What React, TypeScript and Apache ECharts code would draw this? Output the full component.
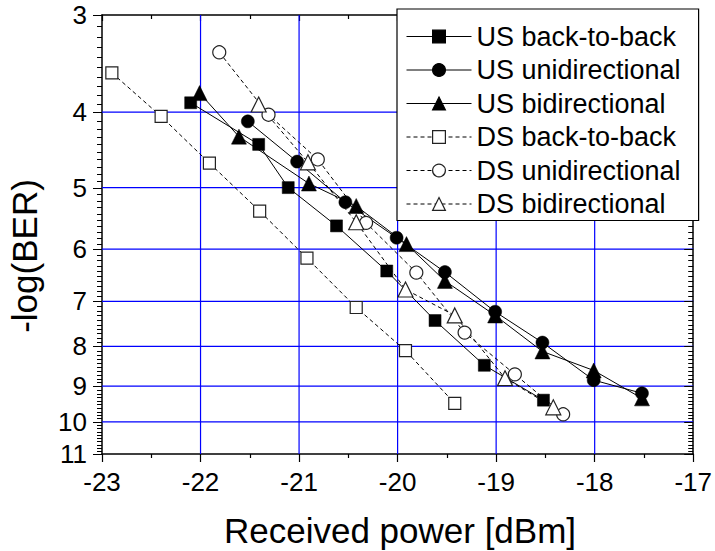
import React, { useEffect, useRef } from "react";
import * as echarts from "echarts";

// ---- axis definitions ----
const xRange = [-23, -17];
const xGridValues = [-22, -21, -20, -19, -18];
const yTickLabels = [3, 4, 5, 6, 7, 8, 9, 10, 11];
const xTitle = "Received power [dBm]";
const yTitle = "-log(BER)";

// ---- data: [received power dBm, -log(BER)] ----
const usBackToBack = [
  [-22.1, 3.89], [-21.41, 4.4], [-21.11, 5.0], [-20.62, 5.6],
  [-20.11, 6.4], [-19.62, 7.41], [-19.12, 8.46], [-18.52, 9.38],
];
const usUnidirectional = [
  [-21.52, 4.11], [-21.02, 4.63], [-20.53, 5.22], [-20.01, 5.8],
  [-19.52, 6.42], [-19.01, 7.22], [-18.53, 7.91], [-18.01, 8.84], [-17.52, 9.19],
];
const usBidirectional = [
  [-22.01, 3.78], [-21.61, 4.3], [-20.9, 4.94], [-20.42, 5.28], [-19.91, 5.91],
  [-19.52, 6.59], [-19.01, 7.3], [-18.53, 8.12], [-18.01, 8.59], [-17.52, 9.33],
];
const dsBackToBack = [
  [-22.9, 3.56], [-22.4, 4.05], [-21.91, 4.65], [-21.4, 5.36],
  [-20.92, 6.16], [-20.42, 7.13], [-19.92, 8.1], [-19.42, 9.47],
];
const dsUnidirectional = [
  [-21.81, 3.35], [-21.31, 4.03], [-20.81, 4.6], [-20.32, 5.55],
  [-19.81, 6.43], [-19.32, 7.68], [-18.81, 8.69], [-18.32, 9.78],
];
const dsBidirectional = [
  [-21.41, 3.91], [-20.91, 4.64], [-20.42, 5.54], [-19.92, 6.76],
  [-19.42, 7.3], [-18.91, 8.79], [-18.42, 9.58],
];

const seriesNames = [
  "US back-to-back", "US unidirectional", "US bidirectional",
  "DS back-to-back", "DS unidirectional", "DS bidirectional",
];

const FONT = '"Liberation Sans", Arial, Helvetica, sans-serif';
const GRID_BLUE = "#0000ff";
const lg = (v: number) => Math.log10(v);

function lineSeries(name: string, pts: number[][], symbol: string, size: number, filled: boolean, dashed: boolean) {
  return {
    type: "line",
    name,
    xAxisIndex: 0,
    yAxisIndex: 0,
    data: pts.map(([x, y]) => [x, lg(y)]),
    symbol,
    symbolSize: size,
    showSymbol: true,
    silent: true,
    z: 5,
    emphasis: { disabled: true },
    lineStyle: { color: "#000", width: 1, type: dashed ? [4, 3] : "solid" },
    itemStyle: filled
      ? { color: "#000", borderColor: "#000", borderWidth: 0.5 }
      : { color: "#fff", borderColor: "#222", borderWidth: 1.2 },
  };
}

export default function App() {
  const ref = useRef<HTMLDivElement>(null);
  useEffect(() => {
    if (!ref.current) return;
    const chart = echarts.init(ref.current, null, { renderer: "svg" });
    const yMin = yTickLabels[0];
    const yMax = yTickLabels[yTickLabels.length - 1];
    const minorTicks: number[] = [];
    for (let i = yMin * 10 + 1; i < yMax * 10; i++) if (i % 10 !== 0) minorTicks.push(i / 10);
    // [x, log y, kind(0 minor,1 major,2 vertical grid), raw]
    const tickData = [
      ...yTickLabels.map((v) => [xRange[0], lg(v), 1, v]),
      ...minorTicks.map((v) => [xRange[0], lg(v), 0, v]),
      ...xGridValues.map((v) => [v, lg(yMin), 2, v]),
    ];
    const axisCommon = {
      type: "value",
      min: xRange[0],
      max: xRange[1],
      interval: 1,
    };
    const option: any = {
      animation: false,
      grid: { left: 102, right: 19, top: 15, bottom: 97, containLabel: false },
      xAxis: [
        {
          ...axisCommon,
          position: "bottom",
          axisLine: { onZero: false, lineStyle: { color: "#000", width: 1.5 } },
          axisTick: { inside: false, length: 8, lineStyle: { color: "#000", width: 1.2 } },
          minorTick: { show: true, splitNumber: 2, length: 4, lineStyle: { color: "#000", width: 1.2 } },
          axisLabel: { fontSize: 26, fontFamily: FONT, color: "#000", margin: 15 },
          splitLine: { show: false },
        },
        {
          ...axisCommon,
          position: "top",
          axisLine: { onZero: false, lineStyle: { color: "#000", width: 1.5 } },
          axisTick: { inside: true, length: 6, lineStyle: { color: "#000", width: 1.2 } },
          minorTick: { show: true, splitNumber: 2, length: 4, lineStyle: { color: "#000", width: 1.2 } },
          axisLabel: { show: false },
          splitLine: { show: false },
        },
      ],
      yAxis: [
        {
          type: "value",
          inverse: true,
          min: lg(yMin),
          max: lg(yMax),
          position: "left",
          axisLine: { show: true, onZero: false, lineStyle: { color: "#000", width: 1.5 } },
          axisTick: { show: false },
          axisLabel: { show: false },
          splitLine: { show: false },
        },
        {
          type: "value",
          inverse: true,
          min: lg(yMin),
          max: lg(yMax),
          position: "right",
          axisLine: { show: true, onZero: false, lineStyle: { color: "#000", width: 1.5 } },
          axisTick: { show: false },
          axisLabel: { show: false },
          splitLine: { show: false },
        },
      ],
      legend: {
        orient: "vertical",
        left: 397,
        top: 9,
        padding: [14, 18, 3, 9],
        itemWidth: 65,
        itemHeight: 16,
        itemGap: 6.5,
        backgroundColor: "#fff",
        borderColor: "#000",
        borderWidth: 1.2,
        borderRadius: 0,
        selectedMode: false,
        z: 10,
        textStyle: { fontSize: 27, fontFamily: FONT, color: "#000" },
        itemStyle: { borderWidth: 1.2 },
        lineStyle: { width: 1 },
        data: seriesNames,
      },
      graphic: [
        {
          type: "text",
          x: 400,
          y: 530,
          style: {
            text: xTitle, fontSize: 35, fontFamily: FONT, fill: "#000",
            align: "center", verticalAlign: "middle", textAlign: "center", textVerticalAlign: "middle",
          },
        },
        {
          type: "text",
          x: 24,
          y: 256,
          rotation: Math.PI / 2,
          style: {
            text: yTitle, fontSize: 35, fontFamily: FONT, fill: "#000",
            align: "center", verticalAlign: "middle", textAlign: "center", textVerticalAlign: "middle",
          },
        },
      ],
      series: [
        {
          type: "custom",
          coordinateSystem: "cartesian2d",
          xAxisIndex: 0,
          yAxisIndex: 0,
          data: tickData,
          encode: { x: 0, y: 1 },
          clip: false,
          silent: true,
          z: 1,
          renderItem: (_params: any, api: any) => {
            const xv = api.value(0);
            const lv = api.value(1);
            const kind = api.value(2);
            const raw = api.value(3);
            const children: any[] = [];
            if (kind === 2) {
              const T = api.coord([xv, lg(yMin)]);
              const B = api.coord([xv, lg(yMax)]);
              children.push({
                type: "line",
                shape: { x1: T[0], y1: T[1], x2: T[0], y2: B[1] },
                style: { stroke: GRID_BLUE, lineWidth: 1.2 },
              });
              return { type: "group", children };
            }
            const major = kind === 1;
            const L = api.coord([xRange[0], lv]);
            const R = api.coord([xRange[1], lv]);
            const y = L[1];
            const ys = Math.round(y) + 0.5;
            const tl = major ? 9 : 5;
            if (major && raw > yMin && raw < yMax) {
              children.push({
                type: "line",
                shape: { x1: L[0], y1: y, x2: R[0], y2: y },
                style: { stroke: GRID_BLUE, lineWidth: 1.2 },
              });
            }
            children.push({
              type: "line",
              shape: { x1: L[0] - tl, y1: ys, x2: L[0], y2: ys },
              style: { stroke: "#000", lineWidth: 1 },
            });
            children.push({
              type: "line",
              shape: { x1: R[0] - tl, y1: ys, x2: R[0], y2: ys },
              style: { stroke: "#000", lineWidth: 1 },
            });
            if (major) {
              children.push({
                type: "text",
                style: {
                  text: String(raw), x: L[0] - 15, y,
                  align: "right", verticalAlign: "middle", textAlign: "right", textVerticalAlign: "middle",
                  fontSize: 26, fontFamily: FONT, fill: "#000",
                },
              });
            }
            return { type: "group", children };
          },
        },
        lineSeries(seriesNames[0], usBackToBack, "rect", 12, true, false),
        lineSeries(seriesNames[1], usUnidirectional, "circle", 13, true, false),
        lineSeries(seriesNames[2], usBidirectional, "triangle", 15, true, false),
        lineSeries(seriesNames[3], dsBackToBack, "rect", 12, false, true),
        lineSeries(seriesNames[4], dsUnidirectional, "circle", 13, false, true),
        lineSeries(seriesNames[5], dsBidirectional, "triangle", 15, false, true),
      ],
    };
    chart.setOption(option);
    return () => chart.dispose();
  }, []);
  return (
    <div
      ref={ref}
      style={{ position: "absolute", left: 0, top: 0, width: 715, height: 551, background: "#fff" }}
    />
  );
}
